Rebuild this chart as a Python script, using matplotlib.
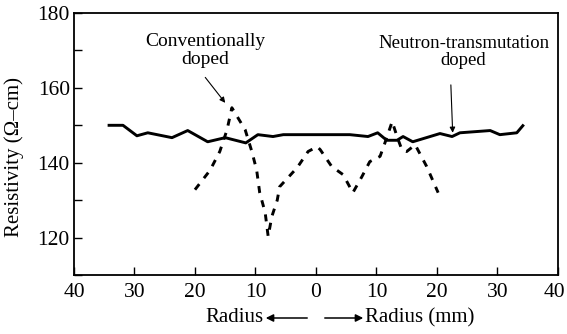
import matplotlib
matplotlib.use('Agg')
import matplotlib.pyplot as plt
from matplotlib.ticker import FuncFormatter, MultipleLocator

plt.rcParams['font.family'] = ['Liberation Serif', 'DejaVu Serif']

# neutron-transmutation doped (solid)
ntd_r = [-34.2, -31.9, -29.6, -27.8, -23.8, -21.2, -17.9, -15.0, -11.6, -9.6, -7.1, -5.4,
         5.6, 8.6, 10.2, 11.7, 13.4, 14.4, 16.0, 20.5, 22.5, 23.8, 28.8, 30.4, 33.2, 34.2]
ntd_rho = [150.0, 150.0, 147.2, 148.0, 146.7, 148.6, 145.6, 146.7, 145.3, 147.5, 147.0, 147.5,
           147.5, 147.0, 148.0, 146.0, 146.0, 147.0, 145.6, 147.8, 147.0, 148.0, 148.6, 147.5, 148.0, 149.9]

# conventionally doped (dashed)
cd_r = [-20.0, -17.5, -15.9, -14.7, -13.9, -11.7, -10.6, -9.8, -9.3, -8.4, -7.9, -7.3, -6.4, -6.0,
        -3.1, -1.3, 0.2, 0.7, 2.6, 4.5, 6.1, 7.6, 8.9, 10.6, 11.4, 12.6, 13.4, 14.2, 15.0, 16.4, 18.3, 20.2]
cd_rho = [132.8, 138.0, 143.0, 148.8, 154.7, 148.8, 143.0, 138.0, 132.0, 126.7, 120.3, 125.6, 130.0, 133.6,
          138.7, 143.0, 144.3, 143.5, 139.0, 136.8, 132.0, 136.3, 140.3, 141.7, 145.3, 151.0, 147.0, 143.5,
          143.0, 144.8, 139.0, 132.0]

fig = plt.figure(figsize=(5.67, 3.34), dpi=100)
ax = fig.add_axes([0.1305, 0.1766, 0.8535, 0.7844])

ax.plot(ntd_r, ntd_rho, color='black', lw=2.1, solid_joinstyle='round')
ax.plot(cd_r, cd_rho, color='black', lw=2.1, linestyle=(0, (2.4, 2.6)))

ax.set_xlim(-40, 40)
ax.set_ylim(110, 180)
ax.xaxis.set_major_locator(MultipleLocator(10))
ax.yaxis.set_major_locator(MultipleLocator(20))
ax.yaxis.set_minor_locator(MultipleLocator(10))
# right-hand "40" is drawn separately so it stays inside the figure
ax.xaxis.set_major_formatter(FuncFormatter(lambda v, p: '' if v > 39 else '%d' % abs(v)))
ax.tick_params(axis='both', which='both', direction='in', length=6, width=1,
               labelsize=15.5, top=False, right=False)
ax.tick_params(axis='x', pad=6)
ax.tick_params(axis='y', pad=3)
for s in ax.spines.values():
    s.set_linewidth(1.3)
ax.annotate('40', xy=(1, 0), xycoords='axes fraction', xytext=(5, -6),
            textcoords='offset points', ha='right', va='top', fontsize=15.5)

ax.set_ylabel('Resistivity (\u03a9\u2013cm)', fontsize=15)
ax.yaxis.set_label_coords(-0.103, 0.45)

ax.text(-18.3, 170.0, 'Conventionally\ndoped', ha='center', va='center',
        fontsize=14, linespacing=1.05)
ax.annotate('', xy=(-15.0, 156.0), xytext=(-18.3, 162.8),
            arrowprops=dict(arrowstyle='-|>', color='black', lw=0.8, shrinkA=0, shrinkB=0,
                            mutation_scale=8))
ax.text(24.4, 169.6, 'Neutron-transmutation\ndoped', ha='center', va='center',
        fontsize=13.5, linespacing=1.05)
ax.annotate('', xy=(22.6, 148.0), xytext=(22.3, 160.8),
            arrowprops=dict(arrowstyle='-|>', color='black', lw=0.8, shrinkA=0, shrinkB=0,
                            mutation_scale=8))

# x label with the two direction arrows
fig.text(263 / 567, 1 - 318 / 334, 'Radius', ha='right', va='center', fontsize=15)
fig.text(365 / 567, 1 - 318 / 334, 'Radius (mm)', ha='left', va='center', fontsize=15)
fig.patches.append(matplotlib.patches.FancyArrowPatch(
    (310 / 567, 1 - 318 / 334), (263 / 567, 1 - 318 / 334), transform=fig.transFigure,
    arrowstyle='-|>', mutation_scale=11, lw=1.1, color='black'))
fig.patches.append(matplotlib.patches.FancyArrowPatch(
    (322 / 567, 1 - 318 / 334), (366 / 567, 1 - 318 / 334), transform=fig.transFigure,
    arrowstyle='-|>', mutation_scale=11, lw=1.1, color='black'))

plt.savefig('out.png', dpi=100)
